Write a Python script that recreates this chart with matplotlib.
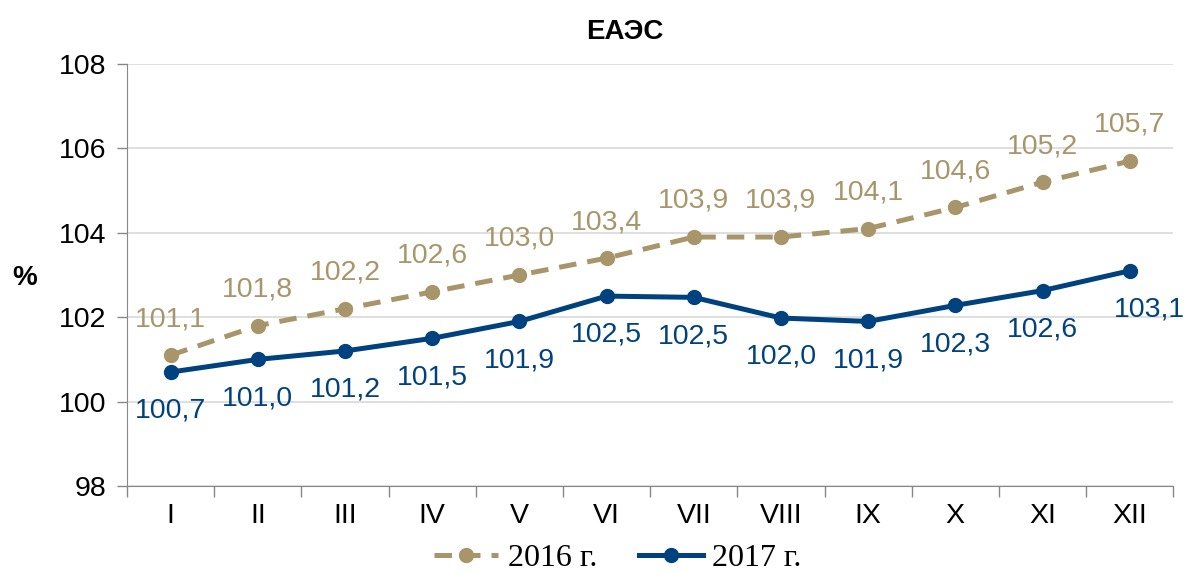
import matplotlib.pyplot as plt
from matplotlib.ticker import FixedLocator, NullFormatter

months = ["I", "II", "III", "IV", "V", "VI", "VII", "VIII", "IX", "X", "XI", "XII"]
vals_2016 = [101.1, 101.8, 102.2, 102.6, 103.0, 103.4, 103.9, 103.9, 104.1, 104.6, 105.2, 105.7]
vals_2017 = [100.7, 101.0, 101.2, 101.5, 101.9, 102.5, 102.47, 101.98, 101.9, 102.28, 102.63, 103.1]
labels_2017 = ["100,7", "101,0", "101,2", "101,5", "101,9", "102,5", "102,5",
               "102,0", "101,9", "102,3", "102,6", "103,1"]

GOLD = "#A8956A"
NAVY = "#00427F"

plt.rcParams["font.family"] = ["Liberation Sans", "DejaVu Sans"]

fig = plt.figure(figsize=(11.93, 5.74), dpi=100)
ax = fig.add_axes([0.1065, 0.1533, 0.877, 0.7352])

x = list(range(len(months)))
ax.plot(x, vals_2016, color=GOLD, linewidth=3.6, linestyle=(0, (3.5, 2.2)),
        marker="o", markersize=10, label="2016 г.", zorder=3)
ax.plot(x, vals_2017, color=NAVY, linewidth=3.6, marker="o", markersize=10,
        label="2017 г.", zorder=4)

for xi, v in zip(x, vals_2016):
    ax.annotate(f"{v:.1f}".replace(".", ","), xy=(xi, v), xytext=(0, 26),
                textcoords="offset points", ha="center", va="center",
                fontsize=20.5, color=GOLD)
for xi, v, lab in zip(x, vals_2017, labels_2017):
    dx = 14 if xi == x[-1] else 0
    ax.annotate(lab, xy=(xi, v), xytext=(dx, -28),
                textcoords="offset points", ha="center", va="center",
                fontsize=20.5, color=NAVY)

ax.set_xlim(-0.5, len(months) - 0.5)
ax.set_ylim(98, 108)
ax.set_yticks([98, 100, 102, 104, 106, 108])
ax.set_xticks(x)
ax.set_xticklabels(months, fontsize=20.5)
ax.xaxis.set_minor_locator(FixedLocator([i - 0.5 for i in range(len(months) + 1)]))
ax.xaxis.set_minor_formatter(NullFormatter())
ax.tick_params(axis="x", which="major", length=0, pad=12)
ax.tick_params(axis="x", which="minor", length=8, width=1, color="#888888")
ax.tick_params(axis="y", labelsize=20.5, length=7, width=1, color="#888888", pad=8)

ax.grid(True, axis="y", color="#D9D9D9", linewidth=1.2)
ax.set_axisbelow(True)
for spine in ("top", "right"):
    ax.spines[spine].set_visible(False)
ax.spines["left"].set_color("#888888")
ax.spines["bottom"].set_color("#888888")

ax.set_ylabel("%", fontsize=20, fontweight="bold", rotation=0, va="center", ha="center")
ax.yaxis.set_label_coords(-0.098, 0.493)

fig.text(0.524, 0.944, "ЕАЭС", ha="center", va="center", fontsize=20, fontweight="bold")

leg = fig.legend(loc="center", bbox_to_anchor=(0.518, 0.027), ncol=2, frameon=False,
                 prop={"family": "Liberation Serif", "size": 23},
                 handlelength=2.0, handletextpad=0.3, columnspacing=1.3)

fig.savefig("out.png", dpi=100)
